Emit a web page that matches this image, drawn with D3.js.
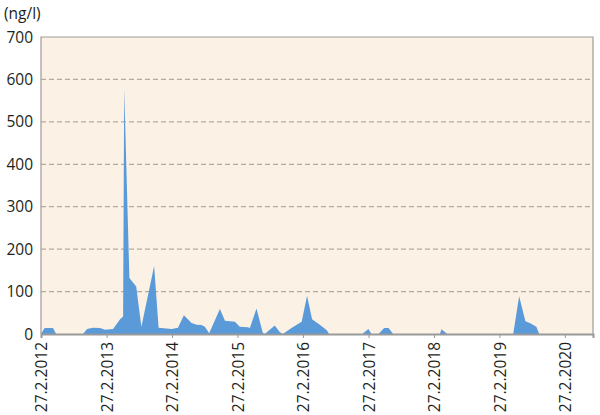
<!DOCTYPE html>
<html>
<head>
<meta charset="utf-8">
<script src="https://cdn.jsdelivr.net/npm/d3@7"></script>
<style>
  body { margin: 0; background: #fff; }
  text { font-family: "Open Sans", sans-serif; fill: #231f20; }
</style>
</head>
<body>
<div id="chart"></div>
<script>
// sample dates and concentrations (ng/l)
var sampleDates = [
  "2012-02-27","2012-03-18","2012-05-04","2012-05-21","2012-10-18","2012-11-10",
  "2012-12-13","2013-01-21","2013-02-19","2013-04-04","2013-05-13","2013-05-30",
  "2013-06-05","2013-07-04","2013-08-11","2013-09-09","2013-11-19","2013-12-14",
  "2014-02-25","2014-04-01","2014-05-04","2014-06-16","2014-07-14","2014-08-10",
  "2014-08-29","2014-09-22","2014-11-21","2014-12-19","2015-02-13","2015-03-12",
  "2015-04-26","2015-05-07","2015-06-13","2015-07-18","2015-07-29","2015-09-23",
  "2015-10-20","2015-11-07","2015-12-25","2016-02-20","2016-03-21","2016-04-18",
  "2016-06-02","2016-07-09","2016-07-22","2017-01-23","2017-02-26","2017-03-16",
  "2017-04-24","2017-05-25","2017-06-19","2017-07-14","2018-04-01","2018-04-10",
  "2018-05-12","2019-05-15","2019-06-17","2019-07-22","2019-08-21","2019-09-21",
  "2019-10-07","2020-08-02"
];
var concentrations = [
  0, 14, 14, 0, 0, 12,
  15, 14, 10, 12, 35, 41,
  580, 132, 112, 17, 160, 15,
  12, 15, 44, 26, 22, 21,
  17, 2, 59, 31, 29, 17,
  16, 14, 60, 3, 0, 20,
  5, 0, 14, 29, 90, 35,
  21, 9, 0, 0, 12, 0,
  0, 14, 14, 0, 0, 11,
  0, 0, 89, 30, 25, 17,
  0, 0
];
var tickDates = ["2012-02-27","2013-02-27","2014-02-27","2015-02-27","2016-02-27",
                 "2017-02-27","2018-02-27","2019-02-27","2020-02-27"];
var yTicks = [0, 100, 200, 300, 400, 500, 600, 700];
var unitLabel = "(ng/l)";

var margin = {top: 37, right: 7, bottom: 81, left: 41},
    width = 600 - margin.left - margin.right,
    height = 415 - margin.top - margin.bottom;

var parseDate = d3.timeParse("%Y-%m-%d");
var formatTick = d3.timeFormat("%-d.%-m.%Y");

var data = sampleDates.map(function(d, i) {
  return { date: parseDate(d), value: concentrations[i] };
});

var svg = d3.select("#chart")
  .append("svg")
  .attr("width", 600)
  .attr("height", 415);

var g = svg.append("g")
  .attr("transform", "translate(" + margin.left + "," + margin.top + ")");

var x = d3.scaleTime()
  .domain([parseDate("2012-02-27"), parseDate("2020-08-02")])
  .range([0, width]);

var y = d3.scaleLinear().domain([0, 700]).range([height, 0]);

// plot background
g.append("rect")
  .attr("width", width)
  .attr("height", height)
  .attr("fill", "#fcf1e5");

// dashed grid lines
g.selectAll(".grid")
  .data(yTicks.filter(function(t) { return t > 0 && t < 700; }))
  .enter().append("line")
  .attr("x1", 0).attr("x2", width)
  .attr("y1", function(d) { return y(d); })
  .attr("y2", function(d) { return y(d); })
  .attr("stroke", "#b3aba2")
  .attr("stroke-width", 1.3)
  .attr("stroke-dasharray", "5,3");

// area
g.append("path")
  .datum(data)
  .attr("fill", "#5a9ad8")
  .attr("d", d3.area()
    .x(function(d) { return x(d.date); })
    .y0(y(0))
    .y1(function(d) { return y(d.value); }));

// frame
g.append("path")
  .attr("d", "M0," + height + "V0H" + width + "V" + height)
  .attr("fill", "none")
  .attr("stroke", "#a09a95")
  .attr("stroke-width", 1.2);

// y axis labels
g.selectAll(".ylab")
  .data(yTicks)
  .enter().append("text")
  .attr("x", -8)
  .attr("y", function(d) { return y(d); })
  .attr("dy", "0.36em")
  .attr("text-anchor", "end")
  .style("font-size", "15.5px")
  .text(function(d) { return d; });

svg.append("text")
  .attr("x", 4)
  .attr("y", 19)
  .style("font-size", "15.5px")
  .text(unitLabel);

// x axis
var xAxis = g.append("g")
  .attr("transform", "translate(0," + height + ")")
  .call(d3.axisBottom(x)
    .tickValues(tickDates.map(parseDate))
    .tickFormat(formatTick)
    .tickSize(4)
    .tickPadding(8));

xAxis.select(".domain")
  .attr("stroke", "#999")
  .attr("stroke-width", 2);
xAxis.selectAll(".tick line").attr("stroke", "#999");
xAxis.selectAll(".tick text")
  .style("font-size", "15.5px")
  .style("font-family", "'Open Sans', sans-serif")
  .attr("fill", "#231f20")
  .attr("transform", "rotate(-90)")
  .attr("text-anchor", "end")
  .attr("x", -8)
  .attr("y", 0)
  .attr("dy", "0.36em");
</script>
</body>
</html>
